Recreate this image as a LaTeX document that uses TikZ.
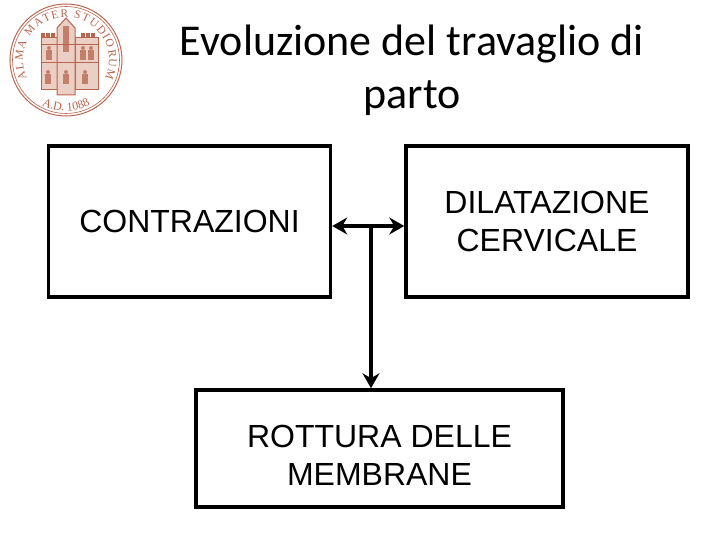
\documentclass[tikz,border=0pt]{standalone}
\usepackage{fontspec}
\setmainfont{Liberation Sans}
\newfontfamily\titlefont{Carlito}
\newfontfamily\sealfont{Liberation Serif}
\usetikzlibrary{arrows.meta,positioning,decorations.text}
\definecolor{sealred}{HTML}{B8644F}
\definecolor{sealpale}{HTML}{EBCFC4}

\begin{document}
\begin{tikzpicture}[
    x=1pt, y=1pt,
    node distance=72pt,
    box/.style={rectangle, draw=black, line width=3.5pt, text centered, align=center, minimum height=151pt, font=\fontsize{32}{38}\selectfont},
    tip/.tip={Stealth[length=15pt,width=17pt,inset=5pt]},
    link/.style={draw, line width=3.5pt, -tip},
    ring/.style={draw=sealred, line width=1pt},
    tower/.style={draw=sealred, fill=sealpale, line width=1pt},
    figure/.style={fill=sealred, opacity=0.75}
]
    \useasboundingbox (0,0) rectangle (720,540);

    % Title
    \node[font=\titlefont\fontsize{44}{53}\selectfont, align=center] (title) at (412,470) {Evoluzione del travaglio di\\parto};

    % Boxes
    \node[box, minimum width=282pt] (contr) at (189.5,318.5) {CONTRAZIONI};
    \node[box, minimum width=282pt, right=of contr] (dilat) {DILATAZIONE\\CERVICALE};
    \node[box, minimum width=367pt, minimum height=117pt] (rott) at (379.5,91.5) {\rule{0pt}{36pt}ROTTURA DELLE\\MEMBRANE};

    % Connecting lines
    \coordinate (junction) at (371,314);
    \path[link, tip-tip] (junction -| contr.east) -- (junction -| dilat.west);
    \path[link] (junction) -- (junction |- rott.north);

    % Seal
    \coordinate (seal) at (66,480);
    \draw[ring] (seal) circle (56);
    \draw[ring, line width=0.6pt] (seal) circle (53.5);
    \path[decorate, decoration={text along path, text align=fit to path, text={|\sealfont\fontsize{11.5}{12}\selectfont\color{sealred}|ALMA MATER STUDIORUM}}]
        ([shift={(205:43)}]seal) arc[start angle=205, end angle=-25, radius=43];
    \path[decorate, decoration={text along path, text align=center, text={|\sealfont\fontsize{12}{12}\selectfont\color{sealred}|A.D. 1088}}]
        ([shift={(235:51)}]seal) arc[start angle=235, end angle=305, radius=51];
    % Towers of the shield
    \draw[tower] (41,502) rectangle (57,450);
    \draw[tower] (75,502) rectangle (98,450);
    \draw[tower] (57,512) -- (66,522) -- (75,512) -- (75,445) -- (57,445) -- cycle;
    \foreach \xpos in {41,46,51,81,86,91} {
        \fill[sealred] (\xpos,502) rectangle ++(4,5);
    }
    \draw[ring] (41,477) -- (98,477);
    \draw[ring] (41,495) -- (98,495);
    % Figures in the shield
    \foreach \xpos/\ypos in {49/486,83/486,91/486,48/462,66/462,85/462} {
        \fill[figure] (\xpos,\ypos+6) circle (2);
        \fill[figure] (\xpos-3,\ypos-6) rectangle (\xpos+3,\ypos+4);
    }
    \fill[figure] (63,488) rectangle (69,514);
\end{tikzpicture}
\end{document}
